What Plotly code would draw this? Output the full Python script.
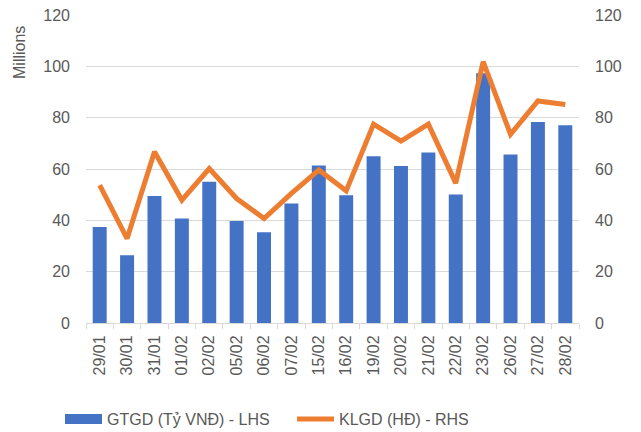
import plotly.graph_objects as go
from plotly.subplots import make_subplots

# Ngày giao dịch
dates = ['29/01', '30/01', '31/01', '01/02', '02/02', '05/02', '06/02', '07/02', '15/02',
         '16/02', '19/02', '20/02', '21/02', '22/02', '23/02', '26/02', '27/02', '28/02']

# GTGD (Tỷ VNĐ), trục trái, đơn vị triệu
gtgd = [37.4, 26.4, 49.5, 40.7, 55.0, 39.7, 35.4, 46.6, 61.4,
        49.8, 65.0, 61.2, 66.4, 50.1, 97.3, 65.7, 78.3, 77.1]

# KLGD (HĐ), trục phải
klgd = [53.7, 32.9, 66.7, 47.9, 60.2, 48.5, 40.7, 50.5, 59.6,
        51.5, 77.5, 70.9, 77.5, 54.5, 101.8, 73.5, 86.5, 85.1]

grey = '#595959'
font_name = 'Liberation Sans, Arial, sans-serif'

# trang html có lề body 8px, nên hình nhỏ hơn cửa sổ một chút
W, H = 633, 424

fig = make_subplots(specs=[[{"secondary_y": True}]])

fig.add_trace(go.Bar(x=dates, y=gtgd, name='GTGD (Tỷ VNĐ) - LHS', showlegend=False,
                     marker=dict(color='#4472C4', line=dict(width=0))),
              secondary_y=False)
# mục chú giải dạng thanh ngang cho GTGD
fig.add_trace(go.Scatter(x=[None], y=[None], mode='lines', name='GTGD (Tỷ VNĐ) - LHS',
                         line=dict(color='#4472C4', width=10)),
              secondary_y=False)

fig.add_trace(go.Scatter(x=dates, y=klgd, name='KLGD (HĐ) - RHS', mode='lines',
                         line=dict(color='#ED7D31', width=5)),
              secondary_y=True)

fig.update_layout(
    template='none',
    width=W, height=H,
    margin=dict(l=78, r=62, t=7, b=109),
    paper_bgcolor='white', plot_bgcolor='white',
    font=dict(family=font_name, size=16, color=grey),
    bargap=0.49,
    showlegend=True,
    legend=dict(orientation='h', x=52 / W, xanchor='left', xref='container',
                y=1 - 411 / H, yanchor='middle', yref='container',
                itemwidth=37, entrywidth=180,
                font=dict(size=16, color=grey), bgcolor='rgba(0,0,0,0)'),
    annotations=[dict(text='Millions', xref='paper', yref='paper',
                      x=-(86 - 20) / 493, y=1 - (53 - 15) / 308,
                      xanchor='center', yanchor='middle',
                      showarrow=False, textangle=-90, font=dict(size=16, color=grey))],
)

fig.update_xaxes(type='category', domain=[0, 1], tickangle=-90, showline=True,
                 linecolor='#d9d9d9', ticks='outside', tickson='boundaries', ticklen=5,
                 tickcolor='#d9d9d9', showgrid=False, automargin=False,
                 ticklabelstandoff=5, tickfont=dict(size=16, color=grey))

fig.update_yaxes(range=[0, 120.01], tickvals=[0, 20, 40, 60, 80, 100, 120],
                 showgrid=True, gridcolor='#d9d9d9', gridwidth=1,
                 zeroline=False, showline=False, ticks='', automargin=False,
                 ticklabeloverflow='allow', ticklabelstandoff=15,
                 tickfont=dict(size=16, color=grey), secondary_y=False)
fig.update_yaxes(range=[0, 120.01], tickvals=[0, 20, 40, 60, 80, 100, 120],
                 showgrid=False, zeroline=False, showline=False,
                 ticks='', automargin=False, ticklabeloverflow='allow', ticklabelstandoff=15,
                 tickfont=dict(size=16, color=grey), secondary_y=True)

fig.write_html("out.html")
